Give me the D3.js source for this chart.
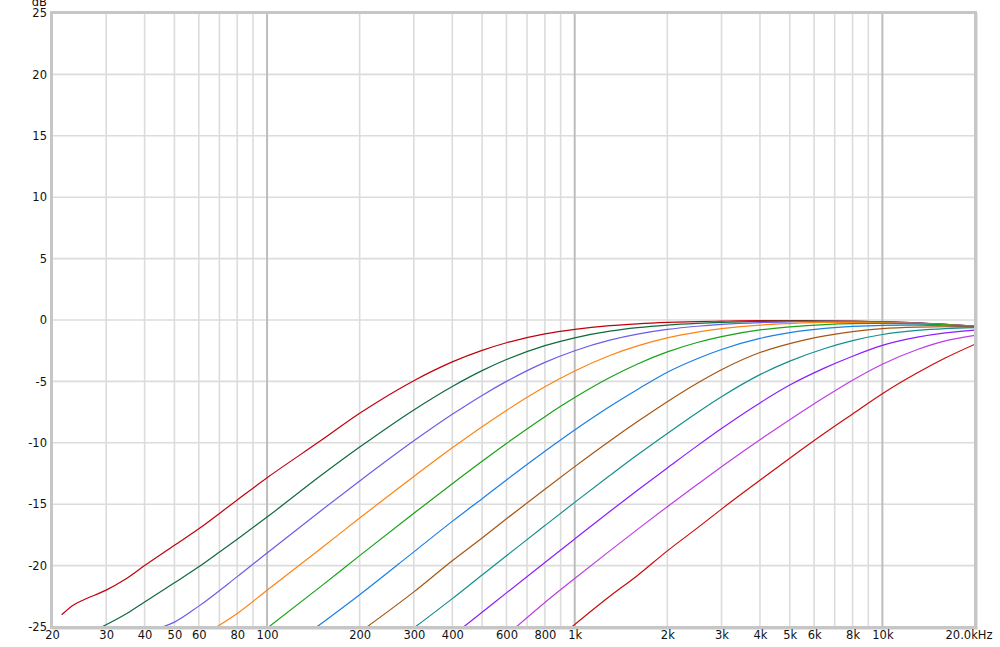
<!DOCTYPE html>
<html>
<head>
<meta charset="utf-8">
<script src="https://cdn.jsdelivr.net/npm/d3@7"></script>
<style>
  html, body { margin: 0; padding: 0; background: #ffffff; }
  svg { display: block; }
  text { font-family: "DejaVu Sans", Verdana, sans-serif; font-size: 11.5px; fill: #111; }
</style>
</head>
<body>
<svg id="chart" width="1000" height="647"></svg>
<script>
// ---- data (frequency in Hz, level in dB) ----
const freqTicks = [20, 30, 40, 50, 60, 80, 100, 200, 300, 400, 600, 800, 1000, 2000, 3000, 4000, 5000, 6000, 8000, 10000, 20000];
const freqTickLabels = ["20", "30", "40", "50", "60", "80", "100", "200", "300", "400", "600", "800", "1k", "2k", "3k", "4k", "5k", "6k", "8k", "10k", "20.0kHz"];
const minorGridFreqs = [30, 40, 50, 60, 70, 80, 90, 200, 300, 400, 500, 600, 700, 800, 900, 2000, 3000, 4000, 5000, 6000, 7000, 8000, 9000];
const majorGridFreqs = [100, 1000, 10000];
const dbTicks = [-25, -20, -15, -10, -5, 0, 5, 10, 15, 20, 25];

const curve1 = [[21.5,-24.0],[23.5,-23.2],[25.3,-22.8],[30,-22.0],[34.2,-21.2],[40,-20.0],[50,-18.35],[60,-17.0],[80,-14.65],[100,-12.85],[150,-9.8],[200,-7.6],[300,-4.94],[400,-3.41],[500,-2.47],[600,-1.85],[800,-1.13],[1000,-0.76],[1300,-0.46],[1600,-0.31],[2000,-0.2],[2500,-0.13],[3000,-0.09],[4000,-0.05],[5000,-0.05],[6500,-0.06],[8000,-0.09],[10000,-0.15],[13000,-0.24],[16000,-0.35],[20000,-0.5]];
const curve2 = [[29,-25],[35,-23.9],[40,-22.96],[50,-21.4],[60,-20.1],[70,-18.9],[80,-17.85],[100,-16.05],[150,-12.65],[200,-10.35],[300,-7.32],[400,-5.41],[500,-4.12],[600,-3.22],[800,-2.09],[1000,-1.45],[1300,-0.91],[1600,-0.62],[2000,-0.41],[2500,-0.27],[3000,-0.19],[4000,-0.11],[5000,-0.09],[6500,-0.08],[8000,-0.11],[10000,-0.16],[13000,-0.25],[16000,-0.36],[20000,-0.5]];
const curve3 = [[45.7,-25],[50,-24.6],[60,-23.3],[80,-20.9],[100,-18.97],[150,-15.51],[200,-13.11],[300,-9.84],[400,-7.68],[500,-6.14],[600,-5.0],[800,-3.45],[1000,-2.5],[1300,-1.64],[1600,-1.15],[2000,-0.77],[2500,-0.51],[3000,-0.36],[4000,-0.21],[5000,-0.15],[6500,-0.12],[8000,-0.13],[10000,-0.17],[13000,-0.26],[16000,-0.36],[20000,-0.51]];
const curve4 = [[68.5,-25],[80,-23.9],[100,-22.0],[150,-18.58],[200,-16.13],[300,-12.74],[400,-10.41],[500,-8.69],[600,-7.36],[800,-5.44],[1000,-4.15],[1300,-2.89],[1600,-2.11],[2000,-1.46],[2500,-0.99],[3000,-0.71],[4000,-0.41],[5000,-0.29],[6500,-0.2],[8000,-0.19],[10000,-0.21],[13000,-0.28],[16000,-0.38],[20000,-0.52]];
const curve5 = [[100,-25.1],[150,-21.67],[200,-19.19],[300,-15.74],[400,-13.33],[500,-11.5],[600,-10.05],[800,-7.87],[1000,-6.32],[1300,-4.69],[1600,-3.58],[2000,-2.6],[2500,-1.83],[3000,-1.35],[4000,-0.81],[5000,-0.56],[6500,-0.37],[8000,-0.3],[10000,-0.28],[13000,-0.32],[16000,-0.4],[20000,-0.54]];
const curve6 = [[145,-25],[200,-22.37],[300,-18.88],[400,-16.4],[500,-14.55],[600,-13.03],[800,-10.69],[1000,-8.96],[1300,-7.05],[1600,-5.66],[2000,-4.25],[2500,-3.15],[3000,-2.4],[4000,-1.5],[5000,-1.03],[6500,-0.68],[8000,-0.52],[10000,-0.43],[13000,-0.41],[16000,-0.47],[20000,-0.56]];
const curve7 = [[211,-25],[300,-22.14],[400,-19.6],[500,-17.75],[600,-16.19],[800,-13.78],[1000,-11.94],[1300,-9.85],[1600,-8.27],[2000,-6.65],[2500,-5.15],[3000,-4.05],[4000,-2.65],[5000,-1.92],[6500,-1.3],[8000,-0.95],[10000,-0.7],[13000,-0.58],[16000,-0.55],[20000,-0.56]];
const curve8 = [[303,-25],[400,-22.69],[500,-20.76],[600,-19.2],[800,-16.74],[1000,-14.85],[1300,-12.67],[1600,-10.98],[2000,-9.24],[2500,-7.55],[3000,-6.25],[4000,-4.45],[5000,-3.35],[6500,-2.32],[8000,-1.68],[10000,-1.18],[13000,-0.85],[16000,-0.7],[20000,-0.62]];
const curve9 = [[435,-25],[500,-23.8],[600,-22.22],[800,-19.74],[1000,-17.83],[1300,-15.6],[1600,-13.86],[2000,-12.05],[2500,-10.25],[3000,-8.83],[4000,-6.75],[5000,-5.3],[6500,-3.9],[8000,-2.95],[10000,-2.07],[13000,-1.4],[16000,-1.05],[20000,-0.82]];
const curve10 = [[645,-25],[800,-23.0],[1000,-21.05],[1300,-18.8],[1600,-17.05],[2000,-15.2],[2500,-13.4],[3000,-11.95],[4000,-9.75],[5000,-8.12],[6500,-6.27],[8000,-4.9],[10000,-3.6],[13000,-2.4],[16000,-1.7],[20000,-1.25]];
const curve11 = [[978,-25],[1300,-22.5],[1600,-20.8],[2000,-18.8],[2500,-16.95],[3000,-15.4],[4000,-13.05],[5000,-11.25],[6500,-9.2],[8000,-7.65],[10000,-6.0],[13000,-4.3],[16000,-3.1],[20000,-1.97]];

const seriesData = [curve1, curve2, curve3, curve4, curve5, curve6, curve7, curve8, curve9, curve10, curve11];
const seriesColors = ["#c0000c", "#0f6b3c", "#6a5ee8", "#ff8412", "#17a317", "#1a7fe6", "#a65612", "#138f8f", "#8a1efc", "#bd3ee4", "#cc0a0a"];

// ---- layout ----
const L = 52, R = 975, T = 13, B = 627;
const svg = d3.select("#chart");
const x = d3.scaleLog().domain([20, 20000]).range([L, R]);
const y = d3.scaleLinear().domain([-25, 25]).range([B, T]);

svg.append("rect").attr("x", L).attr("y", T).attr("width", R - L).attr("height", B - T).attr("fill", "#fff");

// grid
const grid = svg.append("g");
grid.selectAll("line.h").data(dbTicks).join("line")
  .attr("x1", L).attr("x2", R)
  .attr("y1", d => y(d)).attr("y2", d => y(d))
  .attr("stroke", "#dcdcdc").attr("stroke-width", 1.6);
grid.selectAll("line.vmin").data(minorGridFreqs).join("line")
  .attr("x1", d => x(d)).attr("x2", d => x(d))
  .attr("y1", T).attr("y2", B)
  .attr("stroke", "#dcdcdc").attr("stroke-width", 1.6);
grid.selectAll("line.vmaj").data(majorGridFreqs).join("line")
  .attr("x1", d => x(d)).attr("x2", d => x(d))
  .attr("y1", T).attr("y2", B)
  .attr("stroke", "#bdbdbd").attr("stroke-width", 2);

// curves
svg.append("clipPath").attr("id", "plotclip").append("rect")
  .attr("x", L).attr("y", T).attr("width", R - L).attr("height", B - T);
const line = d3.line().x(d => x(d[0])).y(d => y(d[1])).curve(d3.curveMonotoneX);
svg.append("g").attr("clip-path", "url(#plotclip)")
  .selectAll("path").data(seriesData).join("path")
  .attr("d", line)
  .attr("fill", "none")
  .attr("stroke", (d, i) => seriesColors[i])
  .attr("stroke-width", 1.2);

// frame
svg.append("rect").attr("x", L - 0.5).attr("y", T - 0.5).attr("width", R - L + 1).attr("height", B - T + 1)
  .attr("fill", "none").attr("stroke", "#c6c6c6").attr("stroke-width", 3);
svg.append("path")
  .attr("d", `M${R + 2.5},${T} V${B + 2.5} H${L}`)
  .attr("fill", "none").attr("stroke", "#e4e4e4").attr("stroke-width", 1);

// y axis labels
const yAxis = d3.axisLeft(y).tickValues(dbTicks).tickSize(0).tickPadding(0)
  .tickFormat(d => d < 0 ? "-" + Math.abs(d) : String(d));
const gy = svg.append("g").attr("transform", `translate(${L - 5},0)`).call(yAxis);
gy.select(".domain").remove();
gy.selectAll("text").attr("font-family", "DejaVu Sans, sans-serif").attr("font-size", "11.5px").attr("fill", "#111");

// x axis labels
const xAxis = d3.axisBottom(x).tickValues(freqTicks).tickSize(0).tickPadding(0)
  .tickFormat((d, i) => freqTickLabels[i]);
const gx = svg.append("g").attr("transform", `translate(0,${B + 4})`).call(xAxis);
gx.select(".domain").remove();
gx.selectAll("text").attr("font-family", "DejaVu Sans, sans-serif").attr("font-size", "11.5px").attr("fill", "#111");
gx.selectAll(".tick").filter(d => d === 20000).select("text").attr("text-anchor", "end").attr("dx", 17);

// unit label
svg.append("text").attr("x", 47).attr("y", 6).attr("text-anchor", "end").text("dB");
</script>
</body>
</html>
